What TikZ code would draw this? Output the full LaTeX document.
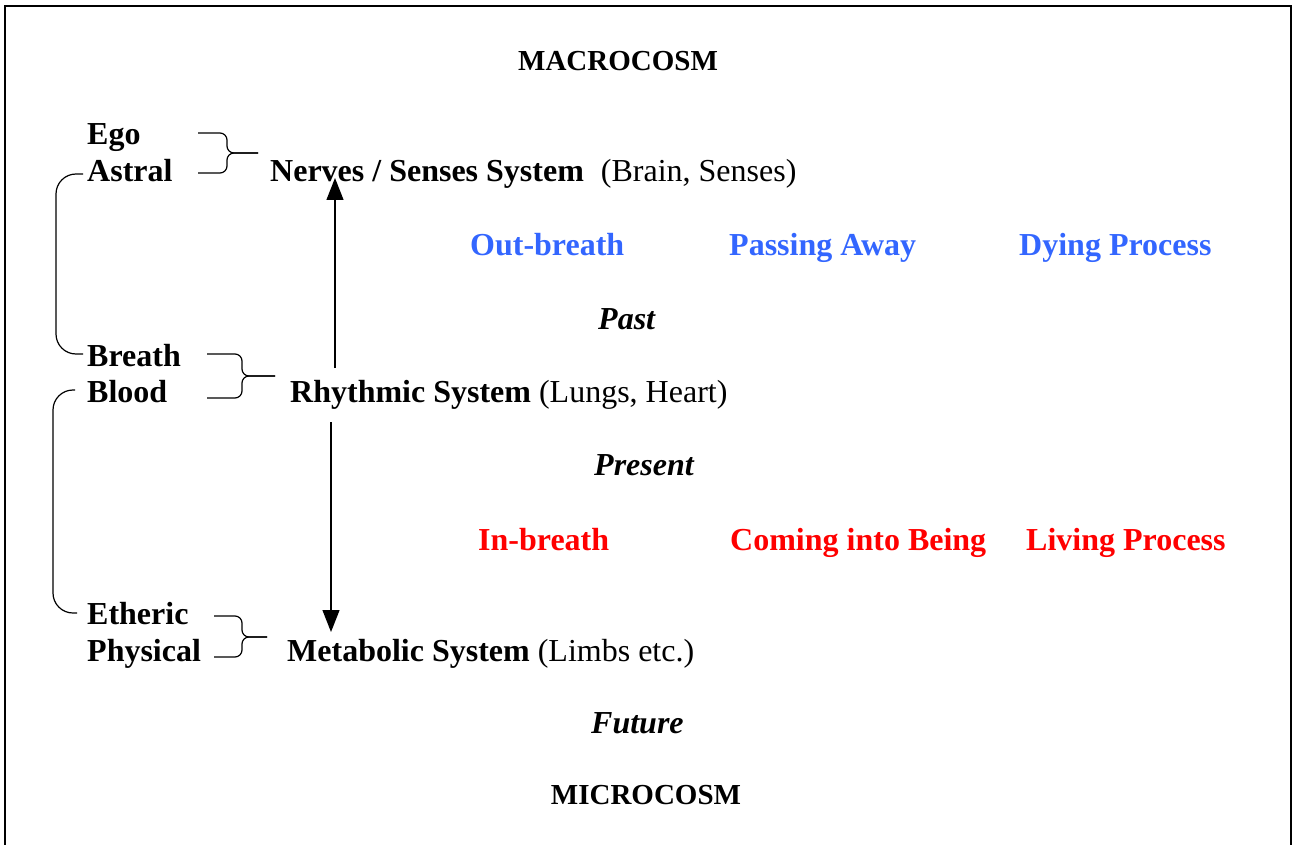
\documentclass[tikz,border=0pt]{standalone}
\usepackage{fontspec}
\setmainfont{Liberation Serif}
\usetikzlibrary{arrows.meta, calc}
\definecolor{outblue}{RGB}{51,102,255}
\definecolor{inred}{RGB}{255,0,0}
\tikzset{
    body/.style={anchor=base west, inner sep=0pt, yshift=-2pt, font=\fontsize{32}{38}\selectfont\bfseries},
    heading/.style={anchor=base, inner sep=0pt, yshift=-2pt, font=\fontsize{29}{35}\selectfont\bfseries},
    tense/.style={body, font=\fontsize{32}{38}\selectfont\bfseries\itshape},
    outproc/.style={body, text=outblue},
    inproc/.style={body, text=inred},
    bracket/.style={rounded corners=7pt, line width=1.2pt},
    sidebracket/.style={rounded corners=20pt, line width=1.2pt},
    flow/.style={-{Triangle[length=22pt,width=17pt]}, line width=1.3pt},
}

\begin{document}
\begin{tikzpicture}[x=1pt, y=-1pt]
    \useasboundingbox (0,0) rectangle (1293,845);
    \draw[line width=2pt] (5,6) rectangle (1291,900);

    \node[heading] (macro) at (618,69) {MACROCOSM};
    \node[heading] (micro) at (646,802) {MICROCOSM};

    % members and systems
    \node[body] (ego) at (87,143) {Ego};
    \node[body] (astral) at (87,180) {Astral};
    \node[body] (nerves) at (270,180) {Nerves / Senses System\hspace{17pt}\mdseries(Brain, Senses)};
    \node[body] (breath) at (87,364) {Breath};
    \node[body] (blood) at (87,400) {Blood};
    \node[body] (rhythmic) at (290,400) {Rhythmic System \mdseries(Lungs, Heart)};
    \node[body] (etheric) at (87,622) {Etheric};
    \node[body] (physical) at (87,659) {Physical};
    \node[body] (metabolic) at (287,659) {Metabolic System \mdseries(Limbs etc.)};

    \node[tense] (past) at (598,327) {Past};
    \node[tense] (present) at (594,473) {Present};
    \node[tense] (future) at (591,731) {Future};

    \node[outproc] (outbreath) at (470,253) {Out-breath};
    \node[outproc] (passing) at (729,253) {Passing Away};
    \node[outproc] (dying) at (1019,253) {Dying Process};
    \node[inproc] (inbreath) at (478,548) {In-breath};
    \node[inproc] (coming) at (730,548) {Coming into Being};
    \node[inproc] (living) at (1026,548) {Living Process};

    % braces
    \coordinate (egoA) at (198,133);
    \coordinate (egoB) at (198,173);
    \coordinate (egoM) at (227,153);
    \coordinate (egoT) at (258,153);
    \coordinate (brA) at (207,354);
    \coordinate (brB) at (207,398);
    \coordinate (brM) at (242,376);
    \coordinate (brT) at (275,376);
    \coordinate (etA) at (214,616);
    \coordinate (etB) at (214,657);
    \coordinate (etM) at (242,637);
    \coordinate (etT) at (267,637);
    \foreach \b in {ego, br, et} {
        \draw[bracket] (\b A) -| (\b M) -- (\b T);
        \draw[bracket] (\b B) -| (\b M) -- (\b T);
    }

    \coordinate (upper) at (56,262);
    \coordinate (lower) at (53,500);
    \draw[sidebracket] ($(astral.base west)+(-4,-8)$) -| (upper) |- ($(breath.base west)+(-4,-12)$);
    \draw[sidebracket] ($(blood.base west)+(-12,-12)$) -| (lower) |- ($(etheric.base west)+(-10,-11)$);

    \draw[flow] ($(rhythmic.base west)+(45,-34)$) -- ($(nerves.base west)+(65,-4)$);
    \draw[flow] ($(rhythmic.base west)+(41,20)$) -- ($(metabolic.base west)+(44,-29)$);
\end{tikzpicture}
\end{document}
